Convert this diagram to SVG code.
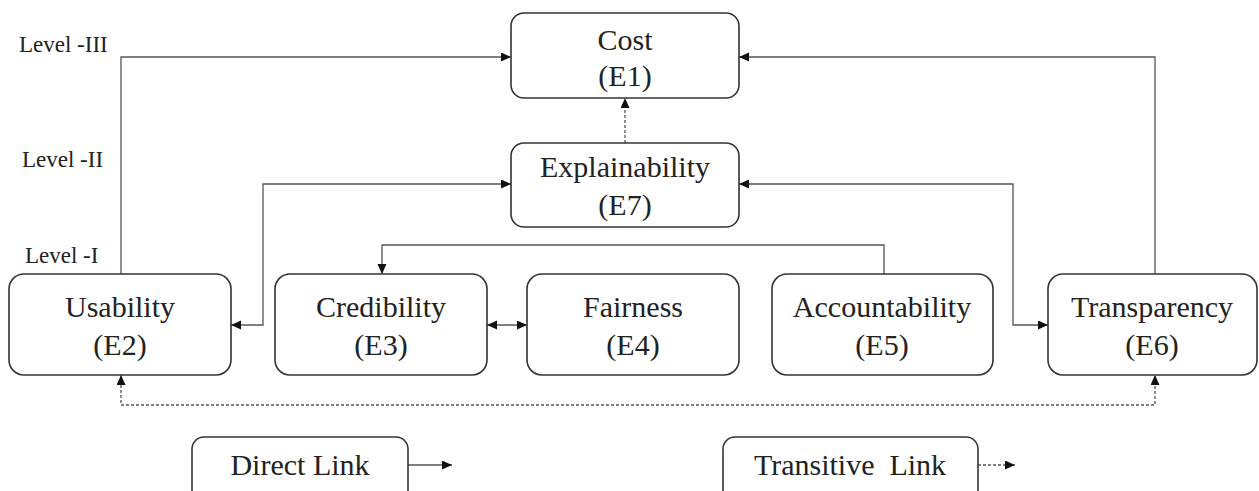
<svg xmlns="http://www.w3.org/2000/svg" width="1259" height="491" viewBox="0 0 1259 491">
<style>
.box{fill:#fff;stroke:#333;stroke-width:1.6}
.t{font-family:"Liberation Serif","Times New Roman",serif;font-size:30px;fill:#222;text-anchor:middle}
.lv{font-family:"Liberation Serif","Times New Roman",serif;font-size:23px;fill:#222}
.c{fill:none;stroke:#555;stroke-width:1.3}
.d{stroke-dasharray:3 2}
</style>
<defs>
<marker id="ah" markerUnits="userSpaceOnUse" markerWidth="11" markerHeight="10" refX="10" refY="4.5" orient="auto-start-reverse" viewBox="0 0 11 10">
<path d="M0,0 L10,4.5 L0,9 z" fill="#111"/>
</marker>
</defs>
<rect width="1259" height="491" fill="#fff"/>
<g id="levels">
<text class="lv" x="19" y="52">Level -III</text>
<text class="lv" x="22" y="167">Level -II</text>
<text class="lv" x="25" y="263">Level -I</text>
</g>
<g id="connectors">
<path class="c" d="M121,274 V57 H511" marker-end="url(#ah)"/>
<path class="c" d="M1155,274 V57 H739" marker-end="url(#ah)"/>
<path class="c d" d="M625,143 V98" marker-end="url(#ah)"/>
<path class="c" d="M231,325 H263 V184 H511" marker-start="url(#ah)" marker-end="url(#ah)"/>
<path class="c" d="M739,184 H1013 V325 H1048" marker-start="url(#ah)" marker-end="url(#ah)"/>
<path class="c" d="M884,274 V245 H382 V274" marker-end="url(#ah)"/>
<path class="c" d="M487,325 H527" marker-start="url(#ah)" marker-end="url(#ah)"/>
<path class="c d" d="M121,375 V405 H1155 V375" marker-start="url(#ah)" marker-end="url(#ah)"/>
<path class="c" d="M408,465 H452" marker-end="url(#ah)"/>
<path class="c d" d="M978,465 H1015" marker-end="url(#ah)"/>
</g>
<g id="E1">
<rect class="box" x="511" y="13" width="228" height="85" rx="13"/>
<text class="t" x="625" y="50">Cost</text>
<text class="t" x="625" y="86">(E1)</text>
</g>
<g id="E7">
<rect class="box" x="511" y="143" width="228" height="84" rx="13"/>
<text class="t" x="625" y="177">Explainability</text>
<text class="t" x="625" y="215">(E7)</text>
</g>
<g id="E2">
<rect class="box" x="9" y="274" width="222" height="101" rx="15"/>
<text class="t" x="120" y="317">Usability</text>
<text class="t" x="120" y="355">(E2)</text>
</g>
<g id="E3">
<rect class="box" x="275" y="274" width="212" height="101" rx="15"/>
<text class="t" x="381" y="317">Credibility</text>
<text class="t" x="381" y="355">(E3)</text>
</g>
<g id="E4">
<rect class="box" x="527" y="274" width="212" height="101" rx="15"/>
<text class="t" x="633" y="317">Fairness</text>
<text class="t" x="633" y="355">(E4)</text>
</g>
<g id="E5">
<rect class="box" x="772" y="274" width="221" height="101" rx="15"/>
<text class="t" x="882" y="317">Accountability</text>
<text class="t" x="882" y="355">(E5)</text>
</g>
<g id="E6">
<rect class="box" x="1048" y="274" width="209" height="101" rx="15"/>
<text class="t" x="1152" y="317">Transparency</text>
<text class="t" x="1152" y="355">(E6)</text>
</g>
<g id="legend-direct">
<rect class="box" x="192" y="437" width="216" height="70" rx="12"/>
<text class="t" x="300" y="475">Direct Link</text>
</g>
<g id="legend-transitive">
<rect class="box" x="723" y="437" width="255" height="70" rx="12"/>
<text class="t" x="850" y="475" xml:space="preserve" style="white-space:pre">Transitive  Link</text>
</g>
</svg>
